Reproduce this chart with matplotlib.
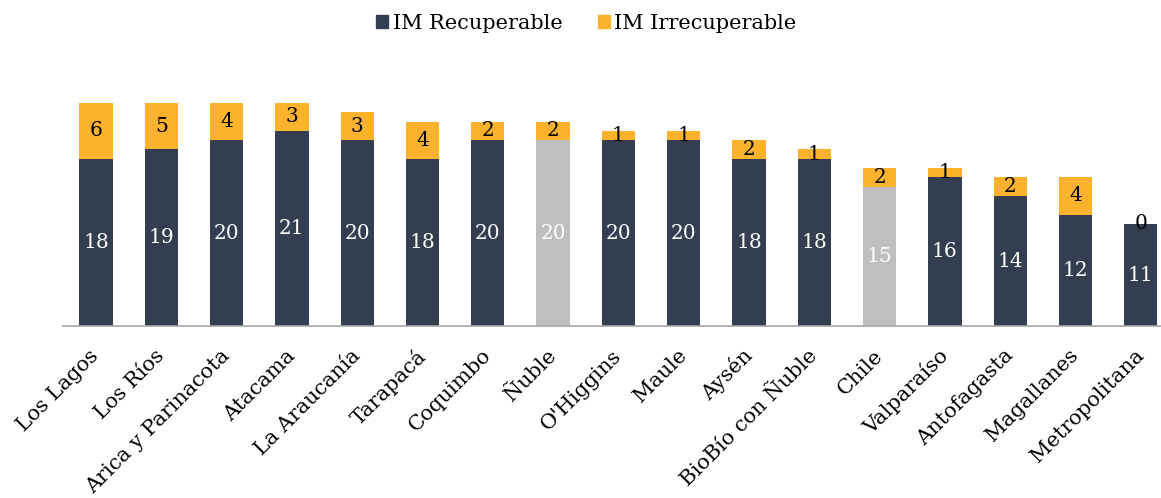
import matplotlib.pyplot as plt
from matplotlib.patches import Patch
import numpy as np

# data
regiones = ["Los Lagos", "Los Ríos", "Arica y Parinacota", "Atacama", "La Araucanía",
            "Tarapacá", "Coquimbo", "Ñuble", "O'Higgins", "Maule", "Aysén",
            "BioBío con Ñuble", "Chile", "Valparaíso", "Antofagasta", "Magallanes",
            "Metropolitana"]
im_recuperable = [18, 19, 20, 21, 20, 18, 20, 20, 20, 20, 18, 18, 15, 16, 14, 12, 11]
im_irrecuperable = [6, 5, 4, 3, 3, 4, 2, 2, 1, 1, 2, 1, 2, 1, 2, 4, 0]
resaltadas = ["Ñuble", "Chile"]

NAVY = '#333F50'
GOLD = '#FDB22E'
GRAY = '#BFBFBF'

plt.rcParams['font.family'] = ['DejaVu Serif']

fig = plt.figure(figsize=(11.61, 4.98), dpi=100)
ax = fig.add_axes([0.054, 0.345, 0.946, 0.467])

x = np.arange(len(regiones))
base_colors = [GRAY if r in resaltadas else NAVY for r in regiones]
w = 0.51

ax.bar(x, im_recuperable, width=w, color=base_colors)
ax.bar(x, im_irrecuperable, width=w, bottom=im_recuperable, color=GOLD)

for i in range(len(regiones)):
    r = im_recuperable[i]
    q = im_irrecuperable[i]
    ax.text(x[i], r / 2, str(r), ha='center', va='center', color='white', fontsize=14.5)
    ax.text(x[i], r + q / 2, str(q), ha='center', va='center', color='black', fontsize=14.5)

ax.set_xlim(-0.51, 16.31)
ax.set_ylim(0, 25)
ax.set_yticks([])
for s in ['top', 'right', 'left']:
    ax.spines[s].set_visible(False)
ax.spines['bottom'].set_color('#A6A6A6')
ax.spines['bottom'].set_linewidth(1.2)

ax.set_xticks(x)
ax.set_xticklabels(regiones, rotation=45, ha='right', va='center',
                   rotation_mode='anchor', fontsize=15)
ax.tick_params(axis='x', length=0, pad=19)

handles = [Patch(color=NAVY, label='IM Recuperable'), Patch(color=GOLD, label='IM Irrecuperable')]
fig.legend(handles=handles, loc='upper center', bbox_to_anchor=(0.505, 1.01), ncol=2,
           frameon=False, fontsize=15, handlelength=0.6, handleheight=0.6,
           handletextpad=0.2, columnspacing=1.7)

fig.savefig('out.png', dpi=100)
